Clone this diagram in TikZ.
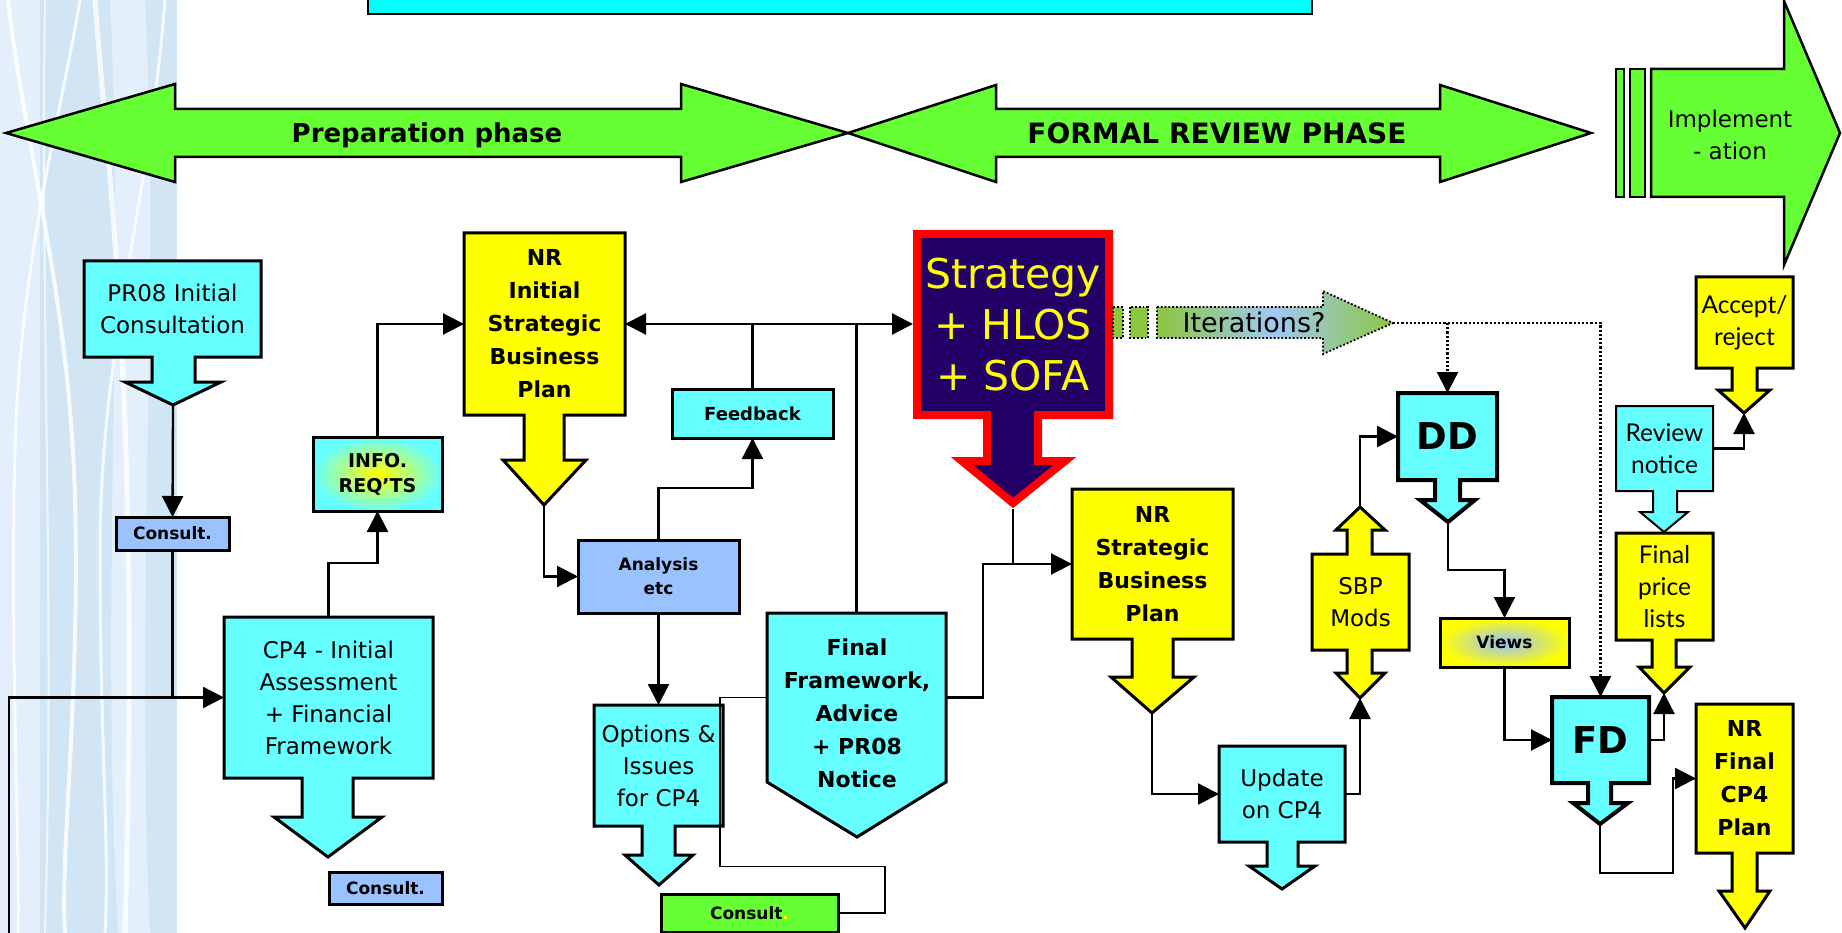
\documentclass[tikz,border=0pt]{standalone}
\usepackage{fontspec}
\setmainfont{DejaVu Sans}
\newfontfamily\gill{Lato}
\usetikzlibrary{arrows.meta,calc}
\definecolor{cyanF}{HTML}{66FFFF}
\definecolor{topC}{HTML}{00FFFF}
\definecolor{yelF}{HTML}{FFFF00}
\definecolor{grnF}{HTML}{66FF33}
\definecolor{blueF}{HTML}{99C2FF}
\definecolor{navyF}{HTML}{220066}
\definecolor{iterG}{HTML}{8DC63F}
\definecolor{iterB}{HTML}{A0C8F5}
\definecolor{bgA}{HTML}{D2E5F4}
\definecolor{bgB}{HTML}{E3EFFA}
\newcommand\Bx[7]{\pgfmathsetmacro\bw{#4-#2}\pgfmathsetmacro\bh{#5-#3}%
  \node[lbl,#6,minimum width=\bw pt,minimum height=\bh pt] (#1) at ({(#2+#4)/2},{(#3+#5)/2}) {#7};}
\tikzset{
  >={Triangle[length=21pt,width=21pt]},
  shp/.style={draw=black,line width=3pt,line join=miter},
  cbox/.style={shp,fill=cyanF},
  ybox/.style={shp,fill=yelF},
  gbox/.style={draw=black,line width=2.5pt,line join=miter,fill=grnF},
  conn/.style={draw,line width=2.3pt,->},
  ln/.style={draw,line width=2.3pt},
  thinln/.style={draw,line width=1.3pt},
  dotconn/.style={draw,line width=2.2pt,dotted,->},
  itd/.style={draw=black,line width=1.8pt,dotted},
  lbl/.style={inner sep=0pt,outer sep=0pt,align=center},
  reg/.style={font=\fontsize{23}{32}\selectfont},
  bld/.style={font=\fontsize{22}{33}\selectfont\bfseries},
  sml/.style={font=\fontsize{17}{21}\selectfont\bfseries},
  gl/.style={font=\gill\fontsize{24.5}{32}\selectfont},
  big/.style={font=\fontsize{37}{40}\selectfont\bfseries},
}
\begin{document}
\begin{tikzpicture}[x=1pt,y=-1pt]
\useasboundingbox (0,0) rectangle (1842,933);
\fill[white] (0,0) rectangle (1842,933);
% background strip
\fill[bgA] (0,0) rectangle (177,933);
\fill[bgB] (0,0) rectangle (40,933);
\fill[bgB] (110,0) .. controls (125,300) and (100,600) .. (118,933) -- (150,933) .. controls (135,600) and (160,300) .. (145,0) -- cycle;
\draw[white,line width=4pt,opacity=.85] (8,0) .. controls (25,150) and (70,300) .. (75,500) .. controls (80,700) and (60,850) .. (65,933);
\draw[white,line width=3pt,opacity=.85] (80,0) .. controls (60,120) and (20,260) .. (15,450) .. controls (10,650) and (20,850) .. (18,933);
\draw[white,line width=5pt,opacity=.8] (95,0) .. controls (110,200) and (140,400) .. (125,933);
\draw[white,line width=3pt,opacity=.8] (165,0) .. controls (150,200) and (100,350) .. (100,550) .. controls (100,750) and (110,850) .. (105,933);
\draw[white,line width=2pt,opacity=.7] (45,0) .. controls (40,300) and (55,600) .. (45,933);
% top bar
\draw[fill=topC,line width=2pt] (368,-5) rectangle (1312,14);
% phase arrows
\draw[gbox] (6,133) -- (175,84) -- (175,109) -- (681,109) -- (681,84) -- (848,133) -- (681,182) -- (681,157) -- (175,157) -- (175,182) -- cycle;
\node[lbl,font=\fontsize{26}{30}\selectfont\bfseries] (prep) at (427,135) {Preparation phase};
\draw[gbox] (848,133) -- (996,85) -- (996,109) -- (1440,109) -- (1440,85) -- (1591,133) -- (1440,182) -- (1440,157) -- (996,157) -- (996,182) -- cycle;
\node[lbl,font=\fontsize{28}{30}\selectfont\bfseries] (formal) at (1217,133) {FORMAL REVIEW PHASE};
\draw[gbox] (1616,69) rectangle (1624,197);
\draw[gbox] (1630,69) rectangle (1645,197);
\draw[gbox] (1651,69) -- (1784,69) -- (1784,1) -- (1840,133) -- (1784,265) -- (1784,197) -- (1651,197) -- cycle;
\node[lbl,reg] (impl) at (1730,135) {Implement\\- ation};
% PR08
\draw[cbox] (84,261) -- (261,261) -- (261,357) -- (195,357) -- (195,382) -- (221,382) -- (173,405) -- (125,382) -- (152,382) -- (152,357) -- (84,357) -- cycle;
\Bx{pr08}{84}{261}{261}{357}{reg}{PR08 Initial\\Consultation}
\coordinate (pr08tip) at (173,405);
\Bx{con1}{116}{517}{229}{550}{draw,line width=3pt,fill=blueF,sml}{Consult.}
% CP4
\draw[cbox] (224,617) -- (433,617) -- (433,778) -- (353,778) -- (353,817) -- (382,817) -- (328,857) -- (274,817) -- (302,817) -- (302,778) -- (224,778) -- cycle;
\Bx{cp4}{224}{617}{433}{778}{reg}{CP4 - Initial\\Assessment\\+ Financial\\Framework}
\Bx{con2}{329}{872}{442}{904}{draw,line width=3pt,fill=blueF,sml}{Consult.}
\Bx{info}{313}{437}{442}{511}{draw,line width=3pt,inner color=yelF,outer color=cyanF,font=\fontsize{19}{25}\selectfont\bfseries}{INFO.\\REQ'TS}
% NR Initial
\draw[ybox] (464,233) -- (625,233) -- (625,415) -- (564,415) -- (564,460) -- (586,460) -- (544,505) -- (503,460) -- (524,460) -- (524,415) -- (464,415) -- cycle;
\Bx{nri}{464}{233}{625}{415}{bld}{NR\\Initial\\Strategic\\Business\\Plan}
\coordinate (nritip) at (544,505);
\Bx{fb}{672}{389}{833}{438}{draw,line width=3pt,fill=cyanF,font=\fontsize{18}{22}\selectfont\bfseries}{Feedback}
\Bx{ana}{578}{540}{739}{613}{draw,line width=3pt,fill=blueF,font=\fontsize{17}{24}\selectfont\bfseries}{Analysis\\etc}
% Options
\draw[cbox] (594,705) -- (723,705) -- (723,826) -- (675,826) -- (675,855) -- (693,855) -- (659,885) -- (625,855) -- (642,855) -- (642,826) -- (594,826) -- cycle;
\Bx{opt}{594}{705}{723}{826}{reg}{Options \&\\Issues\\for CP4}
% Final framework
\draw[cbox] (767,613) -- (946,613) -- (946,782) -- (857,837) -- (767,782) -- cycle;
\Bx{ffb}{767}{613}{946}{782}{}{}
\node[lbl,bld] (fftext) at (857,713) {Final\\Framework,\\Advice\\+ PR08\\Notice};
\Bx{con3}{661}{894}{838}{932}{draw,line width=3pt,fill=grnF,sml}{Consult\textcolor{yelF}{.}}
% Strategy
\draw[line width=8pt,draw=red,fill=navyF,line join=miter] (917,234) -- (1109,234) -- (1109,415) -- (1038,415) -- (1038,461) -- (1065,461) -- (1013,503) -- (962,461) -- (987,461) -- (987,415) -- (917,415) -- cycle;
\Bx{strat}{913}{230}{1113}{419}{text=yelF,font=\fontsize{41}{51}\selectfont}{Strategy\\+ HLOS\\+ SOFA}
\coordinate (strattip) at (1013,509);
% Iterations
\draw[itd,fill=iterG] (1113,307) rectangle (1123,338);
\draw[itd,fill=iterG] (1130,307) rectangle (1148,338);
\draw[itd,left color=iterG,right color=iterG,middle color=iterB] (1157,307) -- (1323,307) -- (1323,291) -- (1393,323) -- (1323,354) -- (1323,338) -- (1157,338) -- cycle;
\node[lbl,font=\fontsize{27}{30}\selectfont] (iter) at (1254,322) {Iterations?};
\coordinate (itertip) at (1393,323);
% NR Strategic
\draw[ybox] (1072,489) -- (1233,489) -- (1233,639) -- (1173,639) -- (1173,677) -- (1194,677) -- (1152,713) -- (1111,677) -- (1132,677) -- (1132,639) -- (1072,639) -- cycle;
\Bx{nrs}{1072}{489}{1233}{639}{bld}{NR\\Strategic\\Business\\Plan}
\coordinate (nrstip) at (1152,713);
% Update
\draw[cbox] (1219,746) -- (1345,746) -- (1345,842) -- (1298,842) -- (1298,866) -- (1315,866) -- (1282,889) -- (1249,866) -- (1267,866) -- (1267,842) -- (1219,842) -- cycle;
\Bx{upd}{1219}{746}{1345}{842}{reg}{Update\\on CP4}
% SBP Mods
\draw[ybox] (1312,554) -- (1347,554) -- (1347,530) -- (1336,530) -- (1360,507) -- (1385,530) -- (1372,530) -- (1372,554) -- (1409,554) -- (1409,650) -- (1372,650) -- (1372,673) -- (1385,673) -- (1360,698) -- (1336,673) -- (1347,673) -- (1347,650) -- (1312,650) -- cycle;
\Bx{sbp}{1312}{554}{1409}{650}{reg}{SBP\\Mods}
\coordinate (sbptop) at (1360,507);
\coordinate (sbpbot) at (1360,698);
% DD
\draw[cbox,line width=4pt] (1398,393) -- (1497,393) -- (1497,480) -- (1460,480) -- (1460,500) -- (1475,500) -- (1448,522) -- (1420,500) -- (1435,500) -- (1435,480) -- (1398,480) -- cycle;
\Bx{dd}{1398}{393}{1497}{480}{big}{DD}
\coordinate (ddtip) at (1448,522);
\Bx{views}{1440}{618}{1569}{667}{draw,line width=3pt,inner color=blueF,outer color=yelF,font=\fontsize{17}{20}\selectfont\bfseries}{Views}
% FD
\draw[cbox,line width=4pt] (1552,697) -- (1649,697) -- (1649,783) -- (1611,783) -- (1611,803) -- (1628,803) -- (1600,824) -- (1573,803) -- (1588,803) -- (1588,783) -- (1552,783) -- cycle;
\Bx{fd}{1552}{697}{1649}{783}{big}{FD}
\coordinate (fdtip) at (1600,824);
% Accept
\draw[ybox] (1696,277) -- (1793,277) -- (1793,368) -- (1757,368) -- (1757,390) -- (1770,390) -- (1744,413) -- (1718,390) -- (1732,390) -- (1732,368) -- (1696,368) -- cycle;
\Bx{acc}{1696}{277}{1793}{368}{gl}{Accept/\\reject}
\coordinate (acctip) at (1744,413);
% Review notice
\draw[cbox,line width=2pt] (1616,406) -- (1713,406) -- (1713,491) -- (1677,491) -- (1677,512) -- (1688,512) -- (1664,532) -- (1640,512) -- (1653,512) -- (1653,491) -- (1616,491) -- cycle;
\Bx{rev}{1616}{406}{1713}{491}{gl}{Review\\notice}
% Final price lists
\draw[ybox] (1616,533) -- (1713,533) -- (1713,640) -- (1676,640) -- (1676,667) -- (1690,667) -- (1664,693) -- (1639,667) -- (1652,667) -- (1652,640) -- (1616,640) -- cycle;
\Bx{fpl}{1616}{533}{1713}{640}{gl}{Final\\price\\lists}
\coordinate (fpltip) at (1664,693);
% NR Final
\draw[ybox] (1696,704) -- (1793,704) -- (1793,853) -- (1757,853) -- (1757,891) -- (1770,891) -- (1745,928) -- (1719,891) -- (1732,891) -- (1732,853) -- (1696,853) -- cycle;
\Bx{nrf}{1696}{704}{1793}{853}{bld}{NR\\Final\\CP4\\Plan}
% connectors
\coordinate (leftend) at (9,940);
\draw[conn] (pr08tip) -- (con1.north);
\draw[ln] (con1.south) -- (con1.south |- cp4.west);
\draw[conn] (leftend) |- (cp4.west);
\draw[conn] (cp4.north) -- ++(0,-54) -| (info.south);
\draw[conn] (info.north) |- (nri.west);
\draw[ln,<->] (nri.east) -- (nri.east -| strat.west);
\draw[ln] (fb.north) -- (fb.north |- nri.east);
\draw[ln] (ffb.north) -- (ffb.north |- nri.east);
\draw[conn] (nritip) |- (ana.west);
\draw[conn] (ana.north) -- ++(0,-52) -| (fb.south);
\draw[conn] (ana.south) -- (opt.north);
\draw[thinln] (ffb.west) -- ++(-47,0) -- ++(0,169) -- ++(165,0) |- (con3.east);
\draw[conn] (ffb.east) -- ++(37,0) |- (nrs.west);
\draw[ln] (strattip) -- (strattip |- nrs.west);
\draw[conn] (nrstip) |- (upd.west);
\draw[conn] (upd.east) -| (sbpbot);
\draw[conn] (sbptop) |- (dd.west);
\draw[conn] (ddtip) -- ++(0,48) -| (views.north);
\draw[conn] (views.south) |- (fd.west);
\draw[conn] (fd.east) -| (fpltip);
\draw[conn] (fdtip) -- ++(0,49) -| ([xshift=-23pt]nrf.west) -- (nrf.west);
\draw[conn] (rev.east) -| (acctip);
\draw[dotconn] (itertip) -| (fd.north);
\draw[dotconn] (itertip -| dd.north) -- (dd.north);
\end{tikzpicture}
\end{document}
